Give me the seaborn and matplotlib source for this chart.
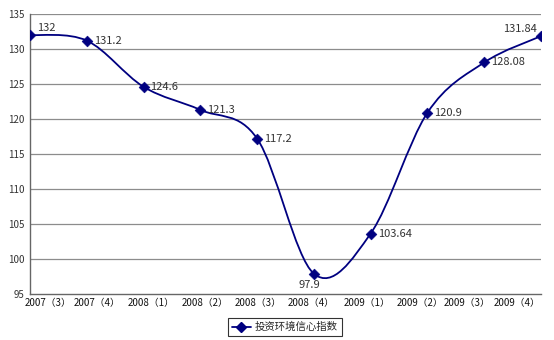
import matplotlib
matplotlib.use("Agg")
import matplotlib.pyplot as plt
import matplotlib.transforms as mtransforms
import seaborn as sns
import pandas as pd
import numpy as np
from matplotlib.path import Path
from matplotlib.patches import PathPatch
from matplotlib.lines import Line2D

categories = ["2007（3）", "2007（4）", "2008（1）", "2008（2）", "2008（3）",
              "2008（4）", "2009（1）", "2009（2）", "2009（3）", "2009（4）"]
values = [132, 131.2, 124.6, 121.3, 117.2, 97.9, 103.64, 120.9, 128.08, 131.84]
labels = ["132", "131.2", "124.6", "121.3", "117.2", "97.9", "103.64", "120.9", "128.08", "131.84"]
series_name = "投资环境信心指数"
yticks = [95, 100, 105, 110, 115, 120, 125, 130, 135]

sns.set_style("white")
plt.rcParams['font.family'] = ['Noto Sans CJK SC', 'DejaVu Sans']

navy = "#000080"
df = pd.DataFrame({"x": np.arange(len(categories)), "y": values})

fig = plt.figure(figsize=(5.54, 3.40), dpi=100)
ax = fig.add_axes([30/554, 1-294/340, (541-30)/554, (294-14)/340])

# smooth curve as cubic Bezier path through data points (Excel-style smoothing)
xs = df["x"].to_numpy(dtype=float)
ys = df["y"].to_numpy(dtype=float)
pts = np.column_stack([xs, ys])
ext = np.vstack([pts[0], pts, pts[-1]])
verts = [tuple(pts[0])]
codes = [Path.MOVETO]
for i in range(len(pts) - 1):
    p0, p1, p2, p3 = ext[i], ext[i+1], ext[i+2], ext[i+3]
    c1 = p1 + (p2 - p0) / 6.0
    c2 = p2 - (p3 - p1) / 6.0
    verts += [tuple(c1), tuple(c2), tuple(p2)]
    codes += [Path.CURVE4, Path.CURVE4, Path.CURVE4]
ax.add_patch(PathPatch(Path(verts, codes), facecolor="none", edgecolor=navy, lw=1.3, zorder=3))

sns.scatterplot(data=df, x="x", y="y", marker="D", s=30, color=navy,
                edgecolor=navy, ax=ax, zorder=4, legend=False)

ax.set_xlim(0, len(categories) - 1)
ax.set_ylim(95, 135)
ax.set_yticks(yticks)
ax.set_xticks(range(len(categories)))
ax.set_xticklabels(categories, fontsize=7, color="#111111")
ax.set_yticklabels([str(t) for t in yticks], fontsize=7, color="#333333")
ax.set_xlabel("")
ax.set_ylabel("")
for t in yticks[1:]:
    ax.axhline(t, color="#8c8c8c", lw=0.9, zorder=1)
ax.tick_params(axis="x", direction="in", length=3, pad=3, color="#555555")
ax.tick_params(axis="y", direction="out", length=2, pad=2, color="#555555")
for s in ["top", "right"]:
    ax.spines[s].set_visible(False)
for s in ["left", "bottom"]:
    ax.spines[s].set_color("#666666")
    ax.spines[s].set_linewidth(1.0)

# Excel squeezes the category labels inward so they fit the plot width
label_shift_px = [18, 10, 8, 5, 1, -3, -4, -7, -17, -24]
for lab, dx in zip(ax.get_xticklabels(), label_shift_px):
    lab.set_transform(lab.get_transform() +
                      mtransforms.ScaledTranslation(dx / 100, 0, fig.dpi_scale_trans))

offsets = {0: (5, 1.5, "left", "bottom"), 5: (-3.5, -4.5, "center", "top"),
           9: (-3, 1.5, "right", "bottom")}
for i, (x, y, lab) in enumerate(zip(xs, ys, labels)):
    dx, dy, ha, va = offsets.get(i, (5, 0, "left", "center"))
    ax.annotate(lab, (x, y), xytext=(dx, dy), textcoords="offset points",
                ha=ha, va=va, fontsize=8, color="#333333", zorder=5)

handle = Line2D([0], [0], color=navy, lw=1.3, marker="D", markersize=5)
leg = fig.legend([handle], [series_name], loc="center", bbox_to_anchor=(285/554, 1-327/340),
                 fontsize=7.5, frameon=True, fancybox=False, borderpad=0.35,
                 handlelength=1.8, handletextpad=0.4)
leg.get_frame().set_edgecolor("#000000")
leg.get_frame().set_linewidth(0.8)

fig.savefig("out.png", dpi=100)
